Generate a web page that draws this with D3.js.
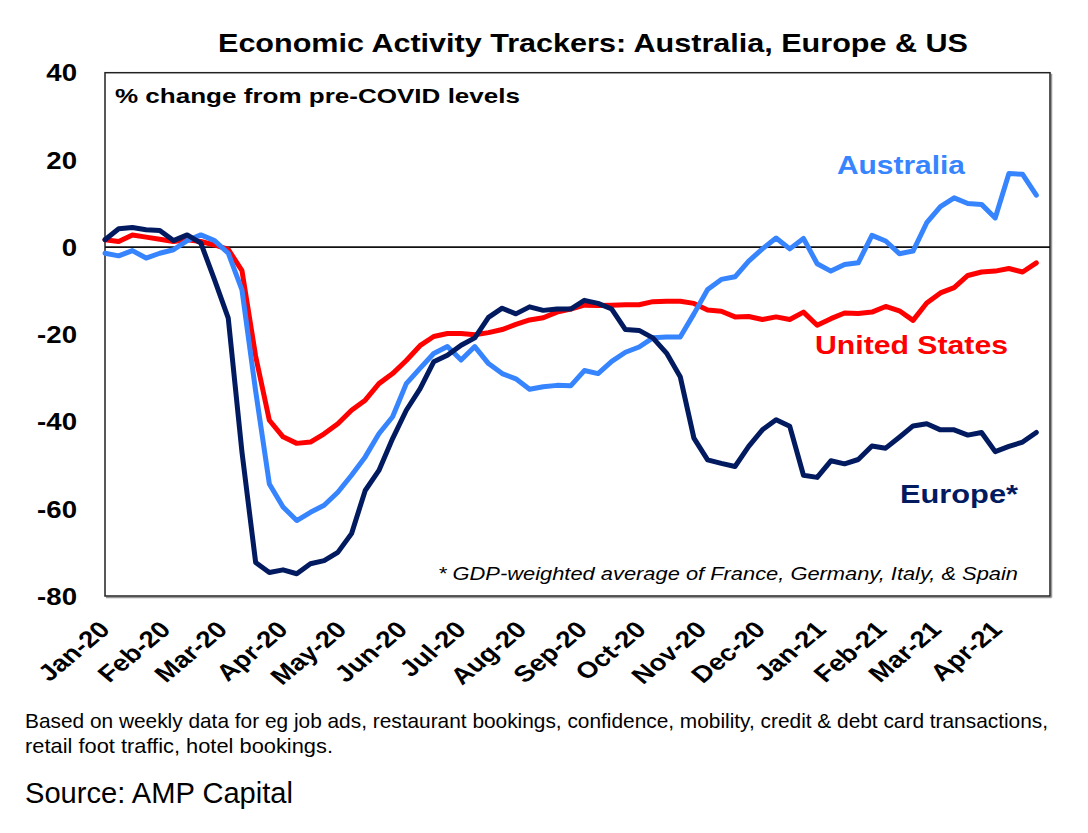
<!DOCTYPE html>
<html><head><meta charset="utf-8">
<script src="https://cdn.jsdelivr.net/npm/d3@7/dist/d3.min.js"></script>
<style>
body{margin:0;background:#fff}
svg{display:block;font-family:"Liberation Sans",Arial,sans-serif}
</style>
</head><body>
<svg id="chart" width="1088" height="833"></svg>
<script>
// ---- data (weekly, % change from pre-COVID levels) ----
const dates = ["2019-12-30","2020-01-06","2020-01-13","2020-01-20","2020-01-27","2020-02-03","2020-02-10","2020-02-17","2020-02-24",
"2020-03-02","2020-03-09","2020-03-16","2020-03-23","2020-03-30","2020-04-06","2020-04-13","2020-04-20","2020-04-27",
"2020-05-04","2020-05-11","2020-05-18","2020-05-25","2020-06-01","2020-06-08","2020-06-15","2020-06-22","2020-06-29",
"2020-07-06","2020-07-13","2020-07-20","2020-07-27","2020-08-03","2020-08-10","2020-08-17","2020-08-24","2020-08-31",
"2020-09-07","2020-09-14","2020-09-21","2020-09-28","2020-10-05","2020-10-12","2020-10-19","2020-10-26","2020-11-02",
"2020-11-09","2020-11-16","2020-11-23","2020-11-30","2020-12-07","2020-12-14","2020-12-21","2020-12-28","2021-01-04",
"2021-01-11","2021-01-18","2021-01-25","2021-02-01","2021-02-08","2021-02-15","2021-02-22","2021-03-01","2021-03-08",
"2021-03-15","2021-03-22","2021-03-29","2021-04-05","2021-04-12","2021-04-19"];

const australia = [-1.4,-2.0,-0.8,-2.5,-1.4,-0.6,1.5,2.8,1.5,-1.4,-9.8,-33,-54.3,-59.6,-62.7,-60.8,-59.2,-56.2,-52.3,-48.1,
-42.8,-38.9,-31.3,-27.8,-24.4,-22.8,-25.9,-22.8,-26.7,-29.0,-30.2,-32.6,-32.0,-31.7,-31.8,-28.3,-29.0,-26.2,-24.1,-22.9,
-20.8,-20.6,-20.6,-15.3,-9.7,-7.4,-6.8,-3.2,-0.4,2.1,-0.4,2.0,-3.8,-5.5,-4.0,-3.6,2.7,1.4,-1.5,-0.9,
5.6,9.3,11.3,10.0,9.8,6.7,16.9,16.7,11.9];

const unitedStates = [1.7,1.3,2.8,2.3,1.8,1.3,1.7,1.3,0.5,-0.5,-5.4,-25,-39.7,-43.5,-45.0,-44.7,-42.8,-40.5,-37.4,-35.1,
-31.3,-29.0,-26.0,-22.6,-20.5,-19.8,-19.8,-20.1,-19.6,-18.9,-17.7,-16.7,-16.2,-14.9,-14.2,-13.3,-13.4,-13.3,-13.2,-13.2,
-12.5,-12.4,-12.4,-12.9,-14.4,-14.7,-16.0,-15.9,-16.6,-16.0,-16.6,-14.9,-17.9,-16.4,-15.1,-15.2,-14.9,-13.6,-14.6,-16.8,
-12.8,-10.5,-9.3,-6.5,-5.7,-5.5,-4.9,-5.7,-3.6];

const europe = [1.7,4.2,4.5,4.0,3.8,1.5,2.8,0.9,-7.5,-16.3,-47,-72.3,-74.6,-74.0,-74.9,-72.6,-71.9,-70.0,-65.7,-55.8,
-51.2,-43.9,-37.4,-32.5,-26.3,-24.8,-22.5,-20.8,-16.1,-14.0,-15.3,-13.7,-14.5,-14.2,-14.2,-12.2,-12.9,-14.2,-18.9,-19.1,
-20.8,-24.3,-29.7,-43.8,-48.8,-49.6,-50.3,-45.7,-41.9,-39.6,-41.1,-52.3,-52.8,-49.0,-49.7,-48.7,-45.6,-46.1,-43.6,-41.0,
-40.5,-41.9,-41.9,-43.1,-42.5,-46.9,-45.7,-44.7,-42.5];

const monthTicks = ["2020-01-01","2020-02-01","2020-03-01","2020-04-01","2020-05-01","2020-06-01","2020-07-01","2020-08-01",
"2020-09-01","2020-10-01","2020-11-01","2020-12-01","2021-01-01","2021-02-01","2021-03-01","2021-04-01"];
const yTicks = [40,20,0,-20,-40,-60,-80];
const xDomain = ["2019-12-30","2021-04-26"];

const titleText = "Economic Activity Trackers: Australia, Europe & US";
const unitText = "% change from pre-COVID levels";
const footText = "* GDP-weighted average of France, Germany, Italy, & Spain";
const note1 = "Based on weekly data for eg job ads, restaurant bookings, confidence, mobility, credit & debt card transactions,";
const note2 = "retail foot traffic, hotel bookings.";
const sourceText = "Source: AMP Capital";

// ---- drawing ----
const parse = d3.utcParse("%Y-%m-%d");
const svg = d3.select("#chart");
const L = 105, R = 1050, T = 72.7, B = 596;
const SX = 1.2; // horizontal stretch of the original picture

const x = d3.scaleUtc().domain(xDomain.map(parse)).range([L, R]);
const y = d3.scaleLinear().domain([-80, 40]).range([B, T]);

svg.append("rect").attr("width",1088).attr("height",833).attr("fill","#fff");

// plot frame
svg.append("line").attr("x1",R+1.5).attr("x2",R+1.5).attr("y1",T+1).attr("y2",B+1.5).attr("stroke","#999").attr("stroke-width",1.5);
svg.append("line").attr("x1",L+1).attr("x2",R+1.5).attr("y1",B+1.5).attr("y2",B+1.5).attr("stroke","#999").attr("stroke-width",1.5);
svg.append("rect").attr("x",L).attr("y",T).attr("width",R-L).attr("height",B-T)
  .attr("fill","none").attr("stroke","#222").attr("stroke-width",1.5);

// zero line
svg.append("line").attr("x1",L).attr("x2",R).attr("y1",y(0)).attr("y2",y(0))
  .attr("stroke","#111").attr("stroke-width",1.6);

// y axis
const yAxis = svg.append("g").attr("transform",`translate(77,0)`)
  .call(d3.axisLeft(y).tickValues(yTicks).tickSize(0).tickFormat(d => String(d)));
yAxis.select(".domain").remove();
yAxis.selectAll("text").attr("x",0).attr("dy","0.36em")
  .attr("transform",`scale(${SX},1)`)
  .style("font-family",'"Liberation Sans",Arial,sans-serif')
  .style("font-size","23px").style("font-weight","bold").attr("fill","#000");

// x axis
const fmt = d3.utcFormat("%b-%y");
const xAxis = svg.append("g").attr("transform",`translate(0,${B})`)
  .call(d3.axisBottom(x).tickValues(monthTicks.map(parse)).tickSize(0).tickFormat(fmt));
xAxis.select(".domain").remove();
xAxis.selectAll("text").attr("x",0).attr("y",0).attr("dy",0)
  .attr("text-anchor","end")
  .attr("transform",`translate(2,35) scale(${SX},1) rotate(-45)`)
  .style("font-family",'"Liberation Sans",Arial,sans-serif')
  .style("font-size","23px").style("font-weight","bold").attr("fill","#000");

// series
const series = [
  {name:"United States", values: unitedStates, color:"#FF0000"},
  {name:"Australia", values: australia, color:"#3784FF"},
  {name:"Europe", values: europe, color:"#021A5F"}
];
const line = d3.line().x(d => x(d.date)).y(d => y(d.v));
series.forEach(s => {
  const pts = dates.map((d,i) => ({date: parse(d), v: s.values[i]}));
  svg.append("path").datum(pts).attr("d", line)
    .attr("fill","none").attr("stroke", s.color).attr("stroke-width",5)
    .attr("stroke-linejoin","round").attr("stroke-linecap","round");
});

// texts
function txt(str, xx, yy, size, width, opts = {}) {
  const t = svg.append("text").attr("x",xx).attr("y",yy).text(str)
    .style("font-size",size+"px")
    .style("font-weight", opts.weight || "normal")
    .style("font-style", opts.style || "normal")
    .attr("fill", opts.color || "#000");
  if (width) t.attr("textLength",width).attr("lengthAdjust","spacingAndGlyphs");
  return t;
}
txt(titleText, 218, 52, 25, 750, {weight:"bold"});
txt(unitText, 115, 103, 21, 405, {weight:"bold"});
txt("Australia", 837, 174, 25, 128, {weight:"bold", color:"#3784FF"});
txt("United States", 815, 354, 25, 193, {weight:"bold", color:"#FF0000"});
txt("Europe*", 900, 503, 25, 118, {weight:"bold", color:"#021A5F"});
txt(footText, 438, 580, 18, 580, {style:"italic"});
txt(note1, 25, 728, 21, 1023);
txt(note2, 25, 753, 21, 308);
txt(sourceText, 25, 803, 29, 268);
</script>
</body></html>
